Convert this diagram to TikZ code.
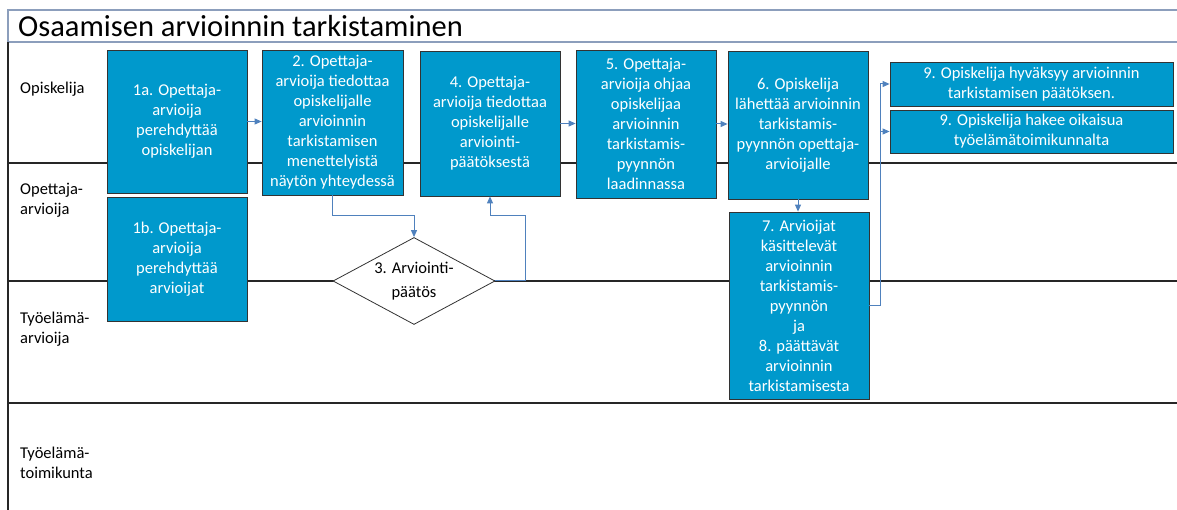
\documentclass[tikz,border=0pt]{standalone}
\usepackage{fontspec}
\setmainfont{Carlito}
\usetikzlibrary{shapes.geometric,arrows.meta}
\definecolor{boxblue}{RGB}{0,153,204}
\definecolor{linkblue}{RGB}{79,129,189}
\definecolor{framegrey}{RGB}{140,158,188}
\tikzset{
  stepbox/.style={draw=black!80, line width=0.8pt, fill=boxblue, text=white, align=center,
    inner sep=0pt, font=\fontsize{16.5}{20}\selectfont},
  decbox/.style={shape=diamond, draw=black!80, line width=0.8pt, fill=white, align=center,
    inner sep=0pt, aspect=1.9, font=\fontsize{16.5}{24}\selectfont},
  lanename/.style={anchor=west, align=left, inner sep=0pt, font=\fontsize{16.5}{20}\selectfont},
  lane/.style={line width=1.6pt, black!85},
  link/.style={draw=linkblue, line width=1pt, -{Triangle[length=7pt,width=6pt]}}
}
\begin{document}
\begin{tikzpicture}[x=1pt,y=-1pt]
    \useasboundingbox (0,0) rectangle (1177,510);
    \draw[framegrey, line width=1.2pt] (1177,10) -- (8,10) -- (8,42) -- (1177,42);
    \node[anchor=west, inner sep=0pt, font=\fontsize{30.5}{32}\selectfont] (title) at (18,26) {Osaamisen arvioinnin tarkistaminen};
    \draw[lane] (8,42) -- (8,510);
    \draw[lane] (8,163) -- (1177,163);
    \draw[lane] (8,281) -- (1177,281);
    \draw[lane] (8,403) -- (1177,403);
    \node[lanename] (lopi) at (20,89) {Opiskelija};
    \node[lanename] (lopa) at (20,200) {Opettaja-\\arvioija};
    \node[lanename] (ltya) at (20,329) {Työelämä-\\arvioija};
    \node[lanename] (ltyt) at (20,463) {Työelämä-\\toimikunta};
    \node[stepbox, minimum width=140, minimum height=143] (b1a) at (177,121.5) {1a. Opettaja-\\arvioija\\perehdyttää\\opiskelijan};
    \node[stepbox, minimum width=140, minimum height=124] (b1b) at (177,259) {1b. Opettaja-\\arvioija\\perehdyttää\\arvioijat};
    \node[stepbox, minimum width=141, minimum height=145] (b2) at (332.5,122.5) {2. Opettaja-\\arvioija tiedottaa\\opiskelijalle\\arvioinnin\\tarkistamisen\\menettelyistä\\näytön yhteydessä};
    \node[decbox, minimum width=162, minimum height=87] (dec) at (414,281) {3. Arviointi-\\päätös};
    \node[stepbox, minimum width=140, minimum height=145] (b4) at (490,123.5) {4. Opettaja-\\arvioija tiedottaa\\opiskelijalle\\arviointi-\\päätöksestä};
    \node[stepbox, minimum width=140, minimum height=148] (b5) at (646,124) {5. Opettaja-\\arvioija ohjaa\\opiskelijaa\\arvioinnin\\tarkistamis-\\pyynnön\\laadinnassa};
    \node[stepbox, minimum width=140, minimum height=148] (b6) at (798,125) {6. Opiskelija\\lähettää arvioinnin\\tarkistamis-\\pyynnön opettaja-\\arvioijalle};
    \node[stepbox, minimum width=140, minimum height=187] (b7) at (799,305.5) {7. Arvioijat\\käsittelevät\\arvioinnin\\tarkistamis-\\pyynnön\\ja\\8. päättävät\\arvioinnin\\tarkistamisesta};
    \node[stepbox, minimum width=283, minimum height=44] (b9a) at (1031.5,84) {9. Opiskelija hyväksyy arvioinnin\\tarkistamisen päätöksen.};
    \node[stepbox, minimum width=283, minimum height=43] (b9b) at (1031.5,131.5) {9. Opiskelija hakee oikaisua\\työelämätoimikunnalta};
    \draw[link] (b1a.east) -- (b1a.east -| b2.west);
    \draw[link] (b2.south) -- ++(0,20) -| (dec.north);
    \draw[link] (dec.east) -- ++(30,0) |- ([yshift=-19pt]b4.south) -- (b4.south);
    \draw[link] (b4.east) -- (b4.east -| b5.west);
    \draw[link] (b5.east) -- (b5.east -| b6.west);
    \draw[link] (b6.south) -- (b6.south |- b7.north);
    \draw[link] (b7.east) -- ++(11,0) |- (b9a.west);
    \draw[link] (b7.east) -- ++(11,0) |- (b9b.west);
\end{tikzpicture}
\end{document}
